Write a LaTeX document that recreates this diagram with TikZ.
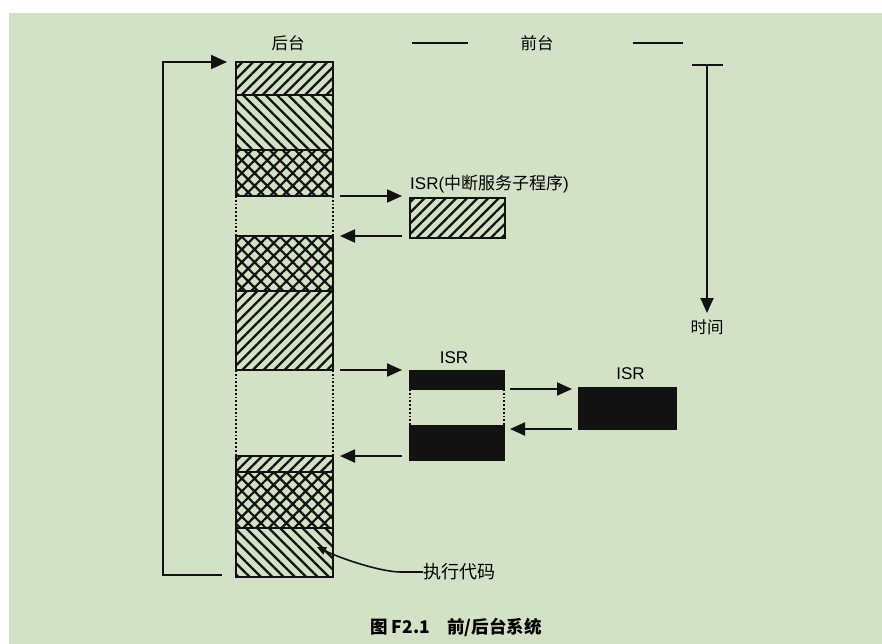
\documentclass[tikz,border=0pt]{standalone}
\usepackage{fontspec}
\setmainfont{Liberation Sans}
\newfontfamily\cjk{Noto Sans CJK SC}
\usetikzlibrary{arrows.meta, patterns.meta, calc}
\definecolor{paper}{RGB}{211, 226, 198}
\definecolor{ink}{RGB}{18, 18, 18}
\tikzset{
    blk/.style={rectangle, draw=ink, line width=2.2pt, inner sep=0pt, outer sep=0pt, minimum width=97pt},
    nehatch/.style={blk, pattern={Lines[angle=45, distance=7.5pt, line width=2.3pt]}, pattern color=ink},
    nwhatch/.style={blk, pattern={Lines[angle=-45, distance=8pt, line width=2.3pt]}, pattern color=ink},
    xhatch/.style={blk, pattern={Hatch[angle=45, distance=9pt, line width=2.2pt]}, pattern color=ink},
    blackbox/.style={blk, fill=ink},
    gapline/.style={ink, line width=1.8pt, dash pattern=on 1.8pt off 2pt},
    sepline/.style={ink, line width=2.2pt},
    arr/.style={-{Triangle[length=15pt, width=13pt]}, line width=2pt, ink},
    looparr/.style={-{Triangle[length=16pt, width=14pt]}, line width=1.7pt, ink},
    thinarr/.style={-{Triangle[length=9pt, width=8pt]}, line width=1.6pt, ink},
    lbl/.style={font=\fontsize{16.5}{19}\selectfont\cjk, inner sep=0pt},
    isrlbl/.style={font=\fontsize{17}{20}\selectfont, inner sep=0pt}
}
\begin{document}
\begin{tikzpicture}[x=1pt, y=-1pt]
\useasboundingbox (0,0) rectangle (882,644);
\fill[white] (0,0) rectangle (882,644);
\fill[paper] (9,13) rectangle (882,644);
% header
\node[lbl] (bg) at (288,43) {后台};
\node[lbl] (fg) at (537,43) {前台};
\draw[sepline] ([xshift=-108]fg.west) -- ([xshift=-52]fg.west);
\draw[sepline] ([xshift=79]fg.east) -- ([xshift=129]fg.east);
% background task column
\node[nehatch, minimum height=33] (b1) at (284.5,78.5) {};
\node[nwhatch, minimum height=55] (b2) at (284.5,122.5) {};
\node[xhatch, minimum height=46] (b3) at (284.5,173) {};
\node[xhatch, minimum height=55] (b4) at (284.5,263.5) {};
\node[nehatch, minimum height=79] (b5) at (284.5,330.5) {};
\node[nehatch, minimum height=16] (b6) at (284.5,464) {};
\node[xhatch, minimum height=56] (b7) at (284.5,500) {};
\node[nwhatch, minimum height=49] (b8) at (284.5,552.5) {};
\draw[gapline] (b3.south west) -- (b4.north west);
\draw[gapline] (b3.south east) -- (b4.north east);
\draw[gapline] (b5.south west) -- (b6.north west);
\draw[gapline] (b5.south east) -- (b6.north east);
% loop back
\draw[looparr] ([xshift=-14,yshift=2]b8.south west) -| ([xshift=-73]b1.north west) -- ([xshift=-9]b1.north west);
% first interrupt
\node[nehatch, minimum width=95, minimum height=40] (isrA) at (457.5,218) {};
\node[isrlbl, anchor=base west] (isrAlbl) at ([yshift=8]isrA.north west) {ISR({\cjk 中断服务子程序})};
\draw[arr] ([xshift=7]b3.south east) -- ([xshift=-8]b3.south east -| isrA.west);
\draw[arr] ([xshift=-8]b4.north east -| isrA.west) -- ([xshift=7]b4.north east);
% nested interrupts
\node[blackbox, minimum width=94, minimum height=18] (isrB1) at (457,380) {};
\node[blackbox, minimum width=94, minimum height=34] (isrB2) at (457,443) {};
\node[isrlbl, anchor=base] (isrBlbl) at ([xshift=-3,yshift=8]isrB1.north) {ISR};
\draw[gapline] (isrB1.south west) -- (isrB2.north west);
\draw[gapline] (isrB1.south east) -- (isrB2.north east);
\node[blackbox, minimum width=97, minimum height=41] (isrC) at (627.5,408.5) {};
\node[isrlbl, anchor=base] (isrClbl) at ([xshift=3,yshift=9]isrC.north) {ISR};
\draw[arr] ([xshift=7]b5.south east) -- ([xshift=-8]b5.south east -| isrB1.west);
\draw[arr] ([xshift=-8]b6.north east -| isrB2.west) -- ([xshift=7]b6.north east);
\draw[arr] ([xshift=6]isrB1.south east) -- ([xshift=-7]isrB1.south east -| isrC.west);
\draw[arr] ([xshift=-7]isrC.south west) -- ([xshift=6]isrC.south west -| isrB2.east);
% time axis
\coordinate (ttop) at (707,65);
\node[lbl, anchor=north] (time) at (707,320) {时间};
\draw[sepline] ([xshift=-15]ttop) -- ([xshift=16]ttop);
\draw[arr] (ttop) -- ([yshift=7]time.north);
% code label
\coordinate (codept) at (317,547);
\node[lbl, font=\fontsize{18}{21}\selectfont\cjk, anchor=west] (code) at (423,572) {执行代码};
\draw[thinarr] (code.west) -- ++(-22,0) .. controls +(-20,0) and +(25,12) .. (codept);
% caption
\node[lbl, font=\fontsize{17.5}{20}\selectfont\cjk\bfseries] (cap) at (456,627) {图 F2.1\quad 前/后台系统};
\end{tikzpicture}
\end{document}
